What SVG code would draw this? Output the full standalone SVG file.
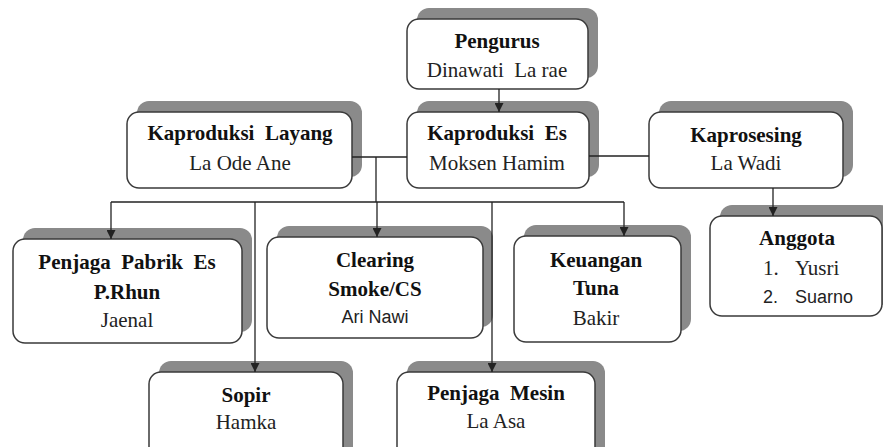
<svg xmlns="http://www.w3.org/2000/svg" width="883" height="447" viewBox="0 0 883 447" xml:space="preserve">
<defs>
<marker id="arr" viewBox="0 0 10 10" refX="10" refY="5" markerWidth="9" markerHeight="9" markerUnits="userSpaceOnUse" orient="auto">
<path d="M0,0 L10,5 L0,10 z" fill="#222"/>
</marker>
</defs>
<style>
.sh{fill:#8a8a8a;}
.bx{fill:#fff;stroke:#3a3a3a;stroke-width:1.5;}
.t{font-family:"Liberation Serif","Times New Roman",serif;font-size:21px;font-weight:bold;fill:#111;text-anchor:middle;white-space:pre;}
.n{font-family:"Liberation Serif","Times New Roman",serif;font-size:21px;fill:#222;text-anchor:middle;white-space:pre;}
.s{font-family:"Liberation Sans",Arial,sans-serif;font-size:18px;fill:#222;}
.c{stroke:#222;stroke-width:1.3;fill:none;}
</style>
<rect width="883" height="447" fill="#fff"/>
<g id="pengurus">
<rect class="sh" x="417" y="8" width="181" height="70" rx="12"/>
<rect class="bx" x="407" y="19" width="181" height="70" rx="12"/>
<text class="t" x="497" y="48">Pengurus</text>
<text class="n" x="497" y="77">Dinawati  La rae</text>
</g>
<g id="kaproduksi-layang">
<rect class="sh" x="137" y="101" width="225" height="76" rx="12"/>
<rect class="bx" x="127" y="112" width="225" height="76" rx="12"/>
<text class="t" x="240" y="140">Kaproduksi  Layang</text>
<text class="n" x="240" y="170">La Ode Ane</text>
</g>
<g id="kaproduksi-es">
<rect class="sh" x="417" y="101" width="182" height="76" rx="12"/>
<rect class="bx" x="407" y="112" width="182" height="76" rx="12"/>
<text class="t" x="497" y="140">Kaproduksi  Es</text>
<text class="n" x="497" y="170">Moksen Hamim</text>
</g>
<g id="kaprosesing">
<rect class="sh" x="659" y="101" width="194" height="76" rx="12"/>
<rect class="bx" x="649" y="112" width="194" height="76" rx="12"/>
<text class="t" x="746" y="142">Kaprosesing</text>
<text class="n" x="746" y="170">La Wadi</text>
</g>
<g id="anggota">
<rect class="sh" x="720" y="205" width="172" height="100" rx="12"/>
<rect class="bx" x="710" y="216" width="172" height="100" rx="12"/>
<text class="t" x="797" y="245">Anggota</text>
<text class="n" x="763" y="275" style="text-anchor:start">1.</text>
<text class="n" x="795" y="275" style="text-anchor:start">Yusri</text>
<text class="s" x="763" y="303">2.</text>
<text class="s" x="795" y="303">Suarno</text>
</g>
<g id="penjaga-pabrik">
<rect class="sh" x="23" y="228" width="229" height="104" rx="12"/>
<rect class="bx" x="13" y="239" width="229" height="104" rx="12"/>
<text class="t" x="127" y="269">Penjaga  Pabrik  Es</text>
<text class="t" x="127" y="299">P.Rhun</text>
<text class="n" x="127" y="327">Jaenal</text>
</g>
<g id="clearing">
<rect class="sh" x="277" y="226" width="216" height="101" rx="12"/>
<rect class="bx" x="267" y="237" width="216" height="101" rx="12"/>
<text class="t" x="375" y="267">Clearing</text>
<text class="t" x="375" y="296">Smoke/CS</text>
<text class="s" x="375" y="323" style="text-anchor:middle">Ari Nawi</text>
</g>
<g id="keuangan">
<rect class="sh" x="524" y="225" width="167" height="106" rx="12"/>
<rect class="bx" x="514" y="236" width="167" height="106" rx="12"/>
<text class="t" x="596" y="267">Keuangan</text>
<text class="t" x="596" y="295">Tuna</text>
<text class="n" x="596" y="325">Bakir</text>
</g>
<g id="sopir">
<rect class="sh" x="159" y="361" width="194" height="100" rx="12"/>
<rect class="bx" x="149" y="372" width="194" height="100" rx="12"/>
<text class="t" x="246" y="402">Sopir</text>
<text class="n" x="246" y="429">Hamka</text>
</g>
<g id="penjaga-mesin">
<rect class="sh" x="407" y="361" width="198" height="100" rx="12"/>
<rect class="bx" x="397" y="372" width="198" height="100" rx="12"/>
<text class="t" x="496" y="400">Penjaga  Mesin</text>
<text class="n" x="496" y="428">La Asa</text>
</g>
<g id="connectors">
<line class="c" x1="499" y1="89" x2="499" y2="112" marker-end="url(#arr)"/>
<line class="c" x1="352" y1="157" x2="407" y2="157"/>
<line class="c" x1="589" y1="156" x2="649" y2="156"/>
<line class="c" x1="376" y1="157" x2="376" y2="202"/>
<line class="c" x1="111" y1="202" x2="624" y2="202"/>
<line class="c" x1="111" y1="202" x2="111" y2="239" marker-end="url(#arr)"/>
<line class="c" x1="377" y1="202" x2="377" y2="237" marker-end="url(#arr)"/>
<line class="c" x1="624" y1="202" x2="624" y2="236" marker-end="url(#arr)"/>
<line class="c" x1="255" y1="202" x2="255" y2="372" marker-end="url(#arr)"/>
<line class="c" x1="492" y1="202" x2="492" y2="372" marker-end="url(#arr)"/>
<line class="c" x1="773" y1="188" x2="773" y2="216" marker-end="url(#arr)"/>
</g>
</svg>
